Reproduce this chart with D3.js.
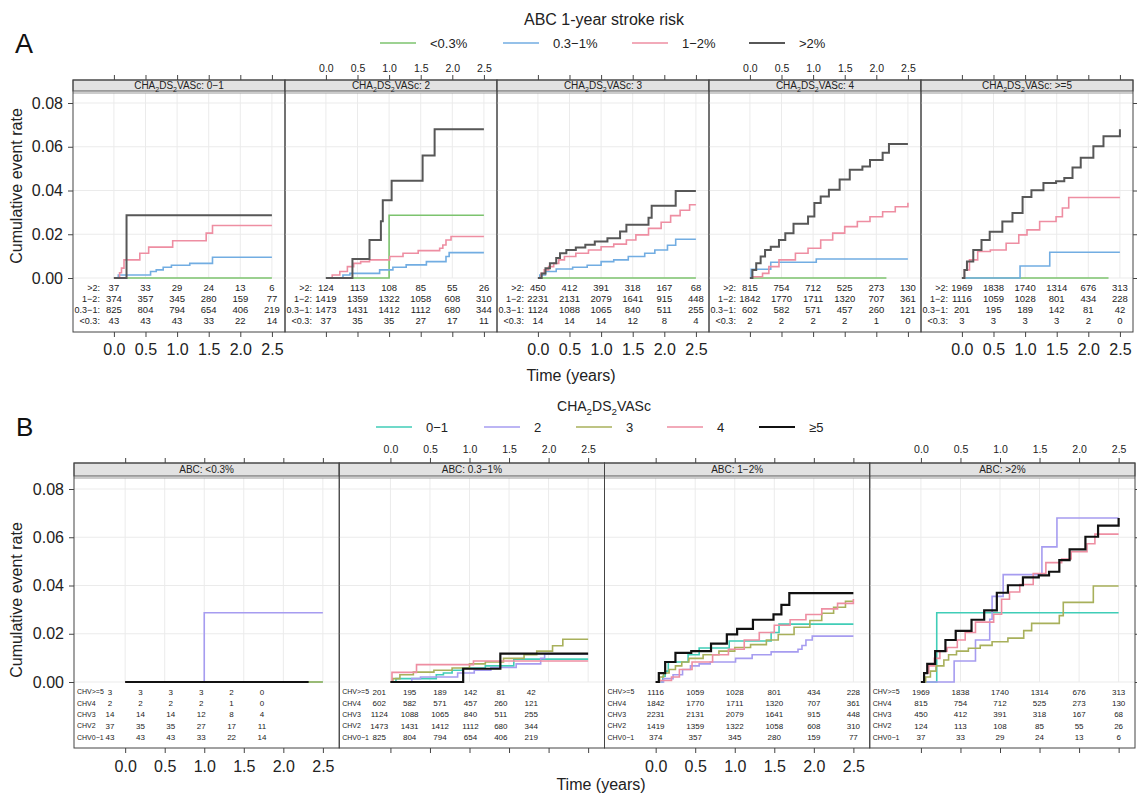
<!DOCTYPE html>
<html>
<head>
<meta charset="utf-8">
<script src="https://cdn.jsdelivr.net/npm/d3@7"></script>
<style>
  body { margin: 0; background: #fff; }
  svg { font-family: "Liberation Sans", Arial, sans-serif; display: block; }
</style>
</head>
<body>
<div id="chart"></div>
<script>
// ---- categories / ticks ----
const timeTicks = [0, 0.5, 1.0, 1.5, 2.0, 2.5];
const rateTicks = [0, 0.02, 0.04, 0.06, 0.08];
const chvStrip = ["0\u22121", "2", "3", "4", ">=5"];
const chvLegend = ["0\u22121", "2", "3", "4", "\u22655"];
const chvRowLabels = ["CHV0\u22121", "CHV2", "CHV3", "CHV4", "CHV>=5"];
const abcGroups = ["<0.3%", "0.3\u22121%", "1\u22122%", ">2%"];
const abcRowLabels = ["<0.3:", "0.3\u22121:", "1\u22122:", ">2:"];
const abcColors = ["#7cc36e", "#72ade2", "#ee8ea2", "#575757"];
const chvColors = ["#40cdb7", "#a69cf0", "#a8b05b", "#ee8ea2", "#111111"];

// ---- numbers at risk at 0, 0.5 ... 2.5 years; rows: <0.3, 0.3-1, 1-2, >2 ----
const risk01 = [[43,43,43,33,22,14],[825,804,794,654,406,219],[374,357,345,280,159,77],[37,33,29,24,13,6]];
const risk2  = [[37,35,35,27,17,11],[1473,1431,1412,1112,680,344],[1419,1359,1322,1058,608,310],[124,113,108,85,55,26]];
const risk3  = [[14,14,14,12,8,4],[1124,1088,1065,840,511,255],[2231,2131,2079,1641,915,448],[450,412,391,318,167,68]];
const risk4  = [[2,2,2,2,1,0],[602,582,571,457,260,121],[1842,1770,1711,1320,707,361],[815,754,712,525,273,130]];
const risk5  = [[3,3,3,3,2,0],[201,195,189,142,81,42],[1116,1059,1028,801,434,228],[1969,1838,1740,1314,676,313]];

// ---- cumulative event rate, [years, rate after step] ----
const cum01_under03 = [[0,0],[2.5,0]];
const cum01_03to1 = [[0,0],[0.07,0.0014],[0.58,0.003],[0.67,0.0037],[0.78,0.0049],[0.91,0.0058],[1.2,0.0067],[1.56,0.0095],[2.5,0.0095]];
const cum01_1to2 = [[0,0],[0.09,0.0024],[0.12,0.0045],[0.16,0.0083],[0.41,0.0113],[0.55,0.0141],[0.93,0.017],[1.46,0.0205],[1.56,0.024],[2.5,0.024]];
const cum01_over2 = [[0,0],[0.2,0.0287],[2.5,0.0287]];

const cum2_under03 = [[0,0],[1.0,0.0287],[2.5,0.0287]];
const cum2_03to1 = [[0,0],[0.27,0.0014],[0.38,0.0021],[0.85,0.0037],[1.06,0.0049],[1.27,0.006],[1.59,0.0075],[1.9,0.0098],[1.95,0.0116],[2.5,0.0116]];
const cum2_1to2 = [[0,0],[0.1,0.0014],[0.22,0.003],[0.34,0.0052],[0.44,0.0067],[0.55,0.0075],[0.69,0.0083],[1.01,0.0098],[1.22,0.0113],[1.46,0.0125],[1.8,0.0136],[1.85,0.0151],[1.9,0.0174],[1.98,0.019],[2.5,0.019]];
const cum2_over2 = [[0,0],[0.42,0.0087],[0.69,0.0174],[0.87,0.026],[0.9,0.0355],[1.04,0.0445],[1.53,0.056],[1.72,0.068],[2.5,0.068]];

const cum3_under03 = [[0,0],[2.5,0]];
const cum3_03to1 = [[0,0],[0.03,0.0014],[0.12,0.003],[0.29,0.0041],[0.55,0.0049],[0.78,0.0058],[1.0,0.0075],[1.2,0.0083],[1.43,0.0098],[1.69,0.0113],[1.85,0.0128],[2.05,0.015],[2.18,0.0177],[2.5,0.0177]];
const cum3_1to2 = [[0,0],[0.05,0.0021],[0.1,0.0037],[0.17,0.0052],[0.25,0.0067],[0.33,0.0083],[0.42,0.0098],[0.6,0.0113],[0.8,0.0128],[1.0,0.0143],[1.2,0.0155],[1.4,0.0174],[1.55,0.0197],[1.75,0.0227],[1.95,0.0255],[2.1,0.0285],[2.25,0.031],[2.4,0.0335],[2.5,0.0335]];
const cum3_over2 = [[0,0],[0.06,0.0021],[0.12,0.0045],[0.19,0.0067],[0.29,0.0091],[0.35,0.0113],[0.45,0.0128],[0.6,0.014],[0.75,0.0152],[0.9,0.0167],[1.1,0.0182],[1.3,0.0213],[1.4,0.0243],[1.75,0.0275],[1.8,0.033],[2.18,0.0398],[2.5,0.0398]];

const cum4_under03 = [[0,0],[2.16,0]];
const cum4_03to1 = [[0,0],[0.02,0.004],[0.33,0.0072],[1.05,0.0087],[2.5,0.0087]];
const cum4_1to2 = [[0,0],[0.04,0.0006],[0.2,0.0021],[0.3,0.0052],[0.46,0.0083],[0.72,0.0113],[0.92,0.0136],[1.12,0.0174],[1.31,0.0205],[1.5,0.0235],[1.7,0.0258],[1.9,0.028],[2.1,0.0303],[2.3,0.0326],[2.5,0.0344]];
const cum4_over2 = [[0,0],[0.04,0.0037],[0.1,0.0067],[0.17,0.0098],[0.24,0.0128],[0.33,0.0143],[0.46,0.0174],[0.56,0.0205],[0.69,0.0248],[0.92,0.0281],[1.02,0.0343],[1.12,0.0373],[1.25,0.0404],[1.42,0.045],[1.58,0.0495],[1.78,0.051],[1.9,0.054],[2.1,0.0573],[2.2,0.0613],[2.5,0.0613]];

const cum5_under03 = [[0,0],[2.32,0]];
const cum5_03to1 = [[0,0],[0.92,0.0055],[1.39,0.0118],[2.5,0.0118]];
const cum5_1to2 = [[0,0],[0.04,0.0037],[0.12,0.0083],[0.25,0.0121],[0.45,0.0128],[0.7,0.0159],[0.9,0.0197],[1.03,0.022],[1.23,0.0258],[1.49,0.028],[1.59,0.032],[1.69,0.0368],[2.5,0.0368]];
const cum5_over2 = [[0,0],[0.04,0.0037],[0.08,0.0075],[0.18,0.0128],[0.31,0.0174],[0.44,0.0212],[0.64,0.0258],[0.8,0.0297],[0.96,0.037],[1.1,0.0401],[1.29,0.0434],[1.49,0.0442],[1.62,0.0457],[1.75,0.0505],[1.88,0.055],[2.08,0.0602],[2.24,0.0648],[2.48,0.0648],[2.5,0.068]];

// tables indexed [chv][abc]
const curves = [
    [cum01_under03, cum01_03to1, cum01_1to2, cum01_over2],
    [cum2_under03, cum2_03to1, cum2_1to2, cum2_over2],
    [cum3_under03, cum3_03to1, cum3_1to2, cum3_over2],
    [cum4_under03, cum4_03to1, cum4_1to2, cum4_over2],
    [cum5_under03, cum5_03to1, cum5_1to2, cum5_over2]
];
const atRisk = [risk01, risk2, risk3, risk4, risk5];

// ---- layout ----
const width = 1137, height = 797;
const xDomain = [-0.647, 2.707];
const svg = d3.select("#chart").append("svg")
    .attr("width", width)
    .attr("height", height);

// CHA2DS2VASc with real subscripts
function chaText(sel, suffix, fs){
    const sh = fs * 0.3;
    sel.append("tspan").text("CHA");
    sel.append("tspan").text("2").attr("font-size", fs * 0.7).attr("dy", sh);
    sel.append("tspan").text("DS").attr("dy", -sh);
    sel.append("tspan").text("2").attr("font-size", fs * 0.7).attr("dy", sh);
    sel.append("tspan").text("VASc" + suffix).attr("dy", -sh);
}

function drawSection(cfg){
    const g = svg.append("g");
    const nPanels = cfg.panels.length;
    const pw = (cfg.right - cfg.left) / nPanels;
    const y = d3.scaleLinear().domain([0, 0.08]).range(cfg.yRange);

    cfg.panels.forEach((panel, i) => {
        const x0 = cfg.left + i * pw;
        const x = d3.scaleLinear().domain(xDomain).range([x0, x0 + pw]);
        const pg = g.append("g");

        // grid
        pg.selectAll(".vgrid").data(timeTicks).join("line")
            .attr("x1", d => x(d)).attr("x2", d => x(d))
            .attr("y1", cfg.stripBottom).attr("y2", y(0))
            .attr("stroke", "#ebebeb").attr("stroke-width", 1);
        pg.selectAll(".hgrid").data(rateTicks).join("line")
            .attr("x1", x0).attr("x2", x0 + pw)
            .attr("y1", d => y(d)).attr("y2", d => y(d))
            .attr("stroke", "#ebebeb").attr("stroke-width", 1);

        // curves
        const line = d3.line()
            .x(d => x(d[0]))
            .y(d => y(d[1]))
            .curve(d3.curveStepAfter);
        pg.selectAll(".curve").data(panel.series).join("path")
            .attr("fill", "none")
            .attr("stroke", d => d.color)
            .attr("stroke-width", d => d.width)
            .attr("d", d => line(d.points));

        // numbers at risk
        panel.rows.forEach((row, r) => {
            const ry = cfg.tableTop + r * cfg.rowStep;
            pg.append("text")
                .attr("x", cfg.rowLabelX(x, x0))
                .attr("y", ry)
                .attr("dy", "0.35em")
                .attr("text-anchor", cfg.rowLabelAnchor)
                .attr("font-size", cfg.labelFont)
                .attr("fill", "#222")
                .text(row.label);
            pg.selectAll(".n" + r).data(row.values).join("text")
                .attr("x", (d, k) => cfg.colX(x, x0, k, i))
                .attr("y", ry)
                .attr("dy", "0.35em")
                .attr("text-anchor", "middle")
                .attr("font-size", cfg.tableFont)
                .attr("fill", "#222")
                .text(d => d);
        });

        // strip
        pg.append("rect")
            .attr("x", x0).attr("y", cfg.stripTop)
            .attr("width", pw).attr("height", cfg.stripBottom - cfg.stripTop - 2)
            .attr("fill", "#e2e2e2").attr("stroke", "#555").attr("stroke-width", 1);
        pg.append("line")
            .attr("x1", x0).attr("x2", x0 + pw)
            .attr("y1", cfg.stripBottom).attr("y2", cfg.stripBottom)
            .attr("stroke", "#999").attr("stroke-width", 1);
        const st = pg.append("text")
            .attr("x", x0 + pw / 2)
            .attr("y", (cfg.stripTop + cfg.stripBottom - 2) / 2)
            .attr("dy", "0.3em")
            .attr("text-anchor", "middle")
            .attr("font-size", 10)
            .attr("fill", "#222");
        panel.title(st);

        // panel border
        pg.append("rect")
            .attr("x", x0).attr("y", cfg.stripTop)
            .attr("width", pw).attr("height", cfg.bottom - cfg.stripTop)
            .attr("fill", "none").attr("stroke", "#444").attr("stroke-width", 1);

        // top axis
        const showTop = i % 2 === 1;
        const topAxis = d3.axisTop(x).tickValues(timeTicks).tickSize(5).tickPadding(cfg.topPad)
            .tickFormat(showTop ? d3.format(".1f") : () => "");
        const ta = pg.append("g").attr("transform", `translate(0,${cfg.stripTop})`).call(topAxis);
        ta.select(".domain").remove();
        ta.selectAll("text").attr("font-size", cfg.topFont).attr("fill", "#222").attr("font-family", null);
        ta.selectAll("line").attr("stroke", "#444");

        // bottom axis
        const bottomAxis = d3.axisBottom(x).tickValues(timeTicks).tickSize(5).tickPadding(cfg.bottomPad)
            .tickFormat(showTop ? () => "" : d3.format(".1f"));
        const ba = pg.append("g").attr("transform", `translate(0,${cfg.bottom})`).call(bottomAxis);
        ba.select(".domain").remove();
        ba.selectAll("text").attr("font-size", 16).attr("fill", "#222").attr("font-family", null);
        ba.selectAll("line").attr("stroke", "#444");
    });

    // y axes
    const la = g.append("g").attr("transform", `translate(${cfg.left},0)`)
        .call(d3.axisLeft(y).tickValues(rateTicks).tickSize(5).tickPadding(5).tickFormat(d3.format(".2f")));
    la.select(".domain").remove();
    la.selectAll("text").attr("font-size", 16).attr("fill", "#222").attr("font-family", null);
    la.selectAll("line").attr("stroke", "#444");
    const ra = g.append("g").attr("transform", `translate(${cfg.right},0)`)
        .call(d3.axisRight(y).tickValues(rateTicks).tickSize(5).tickFormat(() => ""));
    ra.select(".domain").remove();
    ra.selectAll("line").attr("stroke", "#444");

    g.append("text")
        .attr("transform", `translate(22,${cfg.yLabelY}) rotate(-90)`)
        .attr("text-anchor", "middle")
        .attr("font-size", 16)
        .attr("fill", "#222")
        .text("Cumulative event rate");
    g.append("text")
        .attr("x", cfg.xLabelX)
        .attr("y", cfg.xLabelY)
        .attr("text-anchor", "middle")
        .attr("font-size", 16)
        .attr("fill", "#222")
        .text("Time (years)");
}

function drawLegend(items, y){
    const lg = svg.append("g");
    lg.selectAll("line").data(items).join("line")
        .attr("x1", d => d.x).attr("x2", d => d.x + 36)
        .attr("y1", y).attr("y2", y)
        .attr("stroke", d => d.color).attr("stroke-width", d => d.width);
    lg.selectAll("text").data(items).join("text")
        .attr("x", d => d.x + 50).attr("y", y)
        .attr("dy", "0.35em")
        .attr("font-size", 13)
        .attr("fill", "#222")
        .text(d => d.label);
}

// ---- Section A: panels by CHA2DS2VASc, lines by ABC ----
svg.append("text").attr("x", 15).attr("y", 53).attr("font-size", 27).attr("fill", "#111").text("A");
svg.append("text").attr("x", 604).attr("y", 25).attr("text-anchor", "middle")
    .attr("font-size", 16).attr("fill", "#222").text("ABC 1-year stroke risk");
const legendAx = [380, 503, 632, 749];
drawLegend(abcGroups.map((label, j) => ({label, color: abcColors[j], width: j === 3 ? 2 : 1.6, x: legendAx[j]})), 43);

drawSection({
    left: 73, right: 1133,
    stripTop: 80, stripBottom: 93, bottom: 332,
    yRange: [278, 103],
    topPad: 3, topFont: 10.5, bottomPad: 7,
    tableTop: 288, rowStep: 11, tableFont: 9.5, labelFont: 9,
    rowLabelX: (x) => x(0) - 14, rowLabelAnchor: "end",
    colX: (x, x0, k) => x(timeTicks[k]),
    xLabelX: 571, xLabelY: 381, yLabelY: 186,
    panels: chvStrip.map((name, c) => ({
        title: sel => chaText(sel, ": " + name, 10),
        series: abcGroups.map((a, j) => ({points: curves[c][j], color: abcColors[j], width: j === 3 ? 2 : 1.6})),
        rows: [3, 2, 1, 0].map(j => ({label: abcRowLabels[j], values: atRisk[c][j]}))
    }))
});

// ---- Section B: panels by ABC, lines by CHA2DS2VASc ----
svg.append("text").attr("x", 16).attr("y", 436).attr("font-size", 26).attr("fill", "#111").text("B");
const bTitle = svg.append("text").attr("x", 604).attr("y", 411).attr("text-anchor", "middle")
    .attr("font-size", 14).attr("fill", "#222");
chaText(bTitle, "", 14);
const legendBx = [376, 484, 576, 667, 759];
drawLegend(chvLegend.map((label, c) => ({label, color: chvColors[c], width: c === 4 ? 2.2 : 1.6, x: legendBx[c]})), 427);

// B1/B2 tables sit in compact columns, B3/B4 line up with the time ticks
const bColStart = [36, 40];
drawSection({
    left: 74, right: 1135,
    stripTop: 463, stripBottom: 478, bottom: 748,
    yRange: [682, 489],
    topPad: 5, topFont: 10.5, bottomPad: 8,
    tableTop: 692, rowStep: 11.3, tableFont: 8, labelFont: 7,
    rowLabelX: (x, x0) => x0 + 3, rowLabelAnchor: "start",
    colX: (x, x0, k, i) => i < 2 ? x0 + bColStart[i] + k * 30.4 : x(timeTicks[k]),
    xLabelX: 601, xLabelY: 790, yLabelY: 600,
    panels: abcGroups.map((name, j) => ({
        title: sel => sel.text("ABC: " + name),
        series: chvLegend.map((c, ci) => ({points: curves[ci][j], color: chvColors[ci], width: ci === 4 ? 2.2 : 1.6})),
        rows: [4, 3, 2, 1, 0].map(ci => ({label: chvRowLabels[ci], values: atRisk[ci][j]}))
    }))
});
</script>
</body>
</html>
